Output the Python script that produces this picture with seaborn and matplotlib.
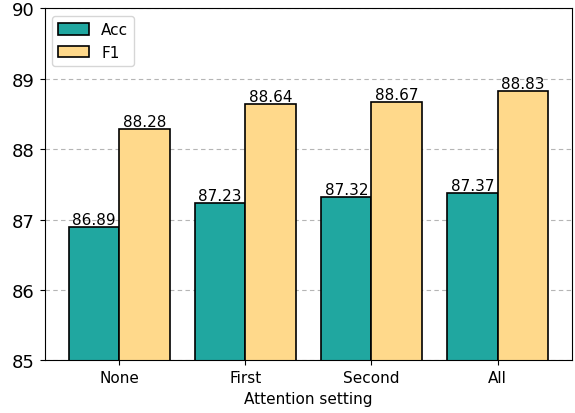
import matplotlib
matplotlib.use("Agg")
import matplotlib.pyplot as plt
import seaborn as sns
import pandas as pd

settings = ["None", "First", "Second", "All"]
acc = [86.89, 87.23, 87.32, 87.37]
f1 = [88.28, 88.64, 88.67, 88.83]

df = pd.DataFrame({
    "setting": settings * 2,
    "metric": ["Acc"] * len(settings) + ["F1"] * len(settings),
    "value": acc + f1,
})

plt.rcParams["font.family"] = ["DejaVu Sans"]
plt.rcParams["font.size"] = 11

fig, ax = plt.subplots(figsize=(5.75, 4.14), dpi=100)
ax.set_axisbelow(True)
ax.yaxis.grid(True, linestyle=(0, (4, 3)), color="#b5b5b5", linewidth=0.8)

sns.barplot(data=df, x="setting", y="value", hue="metric",
            palette={"Acc": "#20A7A0", "F1": "#FFD98B"}, saturation=1,
            edgecolor="black", linewidth=1.2, width=0.8,
            errorbar=None, ax=ax)

for cont in ax.containers:
    ax.bar_label(cont, fmt="%.2f", padding=0, fontsize=11, color="black")

# standard 5% margin around the outermost bars
ax.set_xlim(-0.59, len(settings) - 1 + 0.59)
ax.set_ylim(85, 90)
ax.set_yticks([85, 86, 87, 88, 89, 90])
ax.tick_params(axis="y", labelsize=13)
ax.tick_params(axis="x", labelsize=11)
ax.set_xlabel("Attention setting", fontsize=11)
ax.set_ylabel("")
ax.legend(loc="upper left", title=None, fontsize=11, handlelength=2.0,
          handleheight=0.8)

fig.subplots_adjust(left=0.0777, right=0.995, top=0.9775, bottom=0.1273)
fig.savefig("out.png", dpi=100)
